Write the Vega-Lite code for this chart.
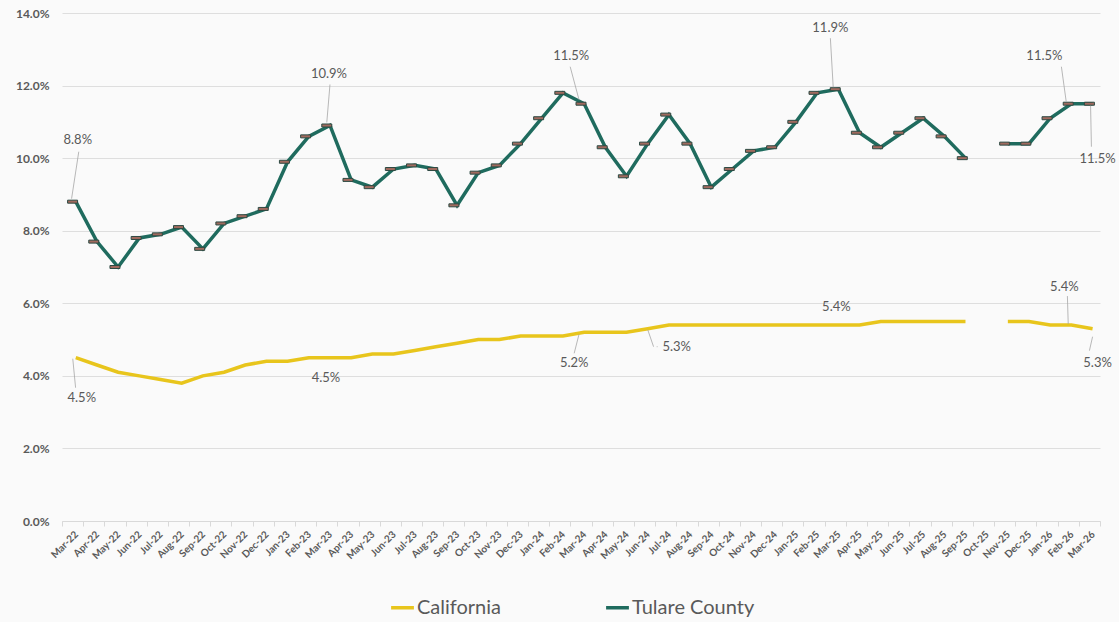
{
  "$schema": "https://vega.github.io/schema/vega-lite/v6.json",
  "width": 1038,
  "height": 508,
  "autosize": {"type": "none"},
  "padding": {"left": 62, "top": 13, "right": 19, "bottom": 101},
  "background": "#fafafa",
  "config": {"view": {"stroke": null}, "font": "Lato"},
  "data": {"values": [
    {"month": "Mar-22", "California": 0.045, "Tulare County": 0.088},
    {"month": "Apr-22", "California": 0.043, "Tulare County": 0.077},
    {"month": "May-22", "California": 0.041, "Tulare County": 0.070},
    {"month": "Jun-22", "California": 0.040, "Tulare County": 0.078},
    {"month": "Jul-22", "California": 0.039, "Tulare County": 0.079},
    {"month": "Aug-22", "California": 0.038, "Tulare County": 0.081},
    {"month": "Sep-22", "California": 0.040, "Tulare County": 0.075},
    {"month": "Oct-22", "California": 0.041, "Tulare County": 0.082},
    {"month": "Nov-22", "California": 0.043, "Tulare County": 0.084},
    {"month": "Dec-22", "California": 0.044, "Tulare County": 0.086},
    {"month": "Jan-23", "California": 0.044, "Tulare County": 0.099},
    {"month": "Feb-23", "California": 0.045, "Tulare County": 0.106},
    {"month": "Mar-23", "California": 0.045, "Tulare County": 0.109},
    {"month": "Apr-23", "California": 0.045, "Tulare County": 0.094},
    {"month": "May-23", "California": 0.046, "Tulare County": 0.092},
    {"month": "Jun-23", "California": 0.046, "Tulare County": 0.097},
    {"month": "Jul-23", "California": 0.047, "Tulare County": 0.098},
    {"month": "Aug-23", "California": 0.048, "Tulare County": 0.097},
    {"month": "Sep-23", "California": 0.049, "Tulare County": 0.087},
    {"month": "Oct-23", "California": 0.050, "Tulare County": 0.096},
    {"month": "Nov-23", "California": 0.050, "Tulare County": 0.098},
    {"month": "Dec-23", "California": 0.051, "Tulare County": 0.104},
    {"month": "Jan-24", "California": 0.051, "Tulare County": 0.111},
    {"month": "Feb-24", "California": 0.051, "Tulare County": 0.118},
    {"month": "Mar-24", "California": 0.052, "Tulare County": 0.115},
    {"month": "Apr-24", "California": 0.052, "Tulare County": 0.103},
    {"month": "May-24", "California": 0.052, "Tulare County": 0.095},
    {"month": "Jun-24", "California": 0.053, "Tulare County": 0.104},
    {"month": "Jul-24", "California": 0.054, "Tulare County": 0.112},
    {"month": "Aug-24", "California": 0.054, "Tulare County": 0.104},
    {"month": "Sep-24", "California": 0.054, "Tulare County": 0.092},
    {"month": "Oct-24", "California": 0.054, "Tulare County": 0.097},
    {"month": "Nov-24", "California": 0.054, "Tulare County": 0.102},
    {"month": "Dec-24", "California": 0.054, "Tulare County": 0.103},
    {"month": "Jan-25", "California": 0.054, "Tulare County": 0.110},
    {"month": "Feb-25", "California": 0.054, "Tulare County": 0.118},
    {"month": "Mar-25", "California": 0.054, "Tulare County": 0.119},
    {"month": "Apr-25", "California": 0.054, "Tulare County": 0.107},
    {"month": "May-25", "California": 0.055, "Tulare County": 0.103},
    {"month": "Jun-25", "California": 0.055, "Tulare County": 0.107},
    {"month": "Jul-25", "California": 0.055, "Tulare County": 0.111},
    {"month": "Aug-25", "California": 0.055, "Tulare County": 0.106},
    {"month": "Sep-25", "California": 0.055, "Tulare County": 0.100},
    {"month": "Oct-25", "California": null, "Tulare County": null},
    {"month": "Nov-25", "California": 0.055, "Tulare County": 0.104},
    {"month": "Dec-25", "California": 0.055, "Tulare County": 0.104},
    {"month": "Jan-26", "California": 0.054, "Tulare County": 0.111},
    {"month": "Feb-26", "California": 0.054, "Tulare County": 0.115},
    {"month": "Mar-26", "California": 0.053, "Tulare County": 0.115}
  ]},
  "transform": [{"fold": ["California", "Tulare County"], "as": ["series", "rate"]}],
  "encoding": {
    "x": {
      "field": "month", "type": "ordinal", "bandPosition": 0.65,
      "scale": {"type": "band", "paddingInner": 0, "paddingOuter": 0,
        "domain": ["Mar-22","Apr-22","May-22","Jun-22","Jul-22","Aug-22","Sep-22","Oct-22","Nov-22","Dec-22","Jan-23","Feb-23","Mar-23","Apr-23","May-23","Jun-23","Jul-23","Aug-23","Sep-23","Oct-23","Nov-23","Dec-23","Jan-24","Feb-24","Mar-24","Apr-24","May-24","Jun-24","Jul-24","Aug-24","Sep-24","Oct-24","Nov-24","Dec-24","Jan-25","Feb-25","Mar-25","Apr-25","May-25","Jun-25","Jul-25","Aug-25","Sep-25","Oct-25","Nov-25","Dec-25","Jan-26","Feb-26","Mar-26"]},
      "axis": {"title": null, "labelAngle": -45, "labelFontSize": 10, "labelFontWeight": "bold", "labelColor": "#595959",
        "tickBand": "extent", "tickColor": "#d9d9d9", "tickSize": 5, "domainColor": "#d9d9d9", "grid": false, "labelPadding": 3}
    },
    "y": {
      "field": "rate", "type": "quantitative",
      "scale": {"domain": [0, 0.14]},
      "axis": {"title": null, "values": [0, 0.02, 0.04, 0.06, 0.08, 0.1, 0.12, 0.14], "format": ".1%",
        "domain": false, "ticks": false, "gridColor": "#dedede", "labelFontSize": 12, "labelFontWeight": "bold",
        "labelColor": "#595959", "labelPadding": 13}
    }
  },
  "layer": [
    {
      "mark": {"type": "line", "strokeWidth": 3.5},
      "encoding": {
        "color": {"field": "series", "type": "nominal",
          "scale": {"domain": ["California", "Tulare County"], "range": ["#e8c51c", "#1f6b5e"]},
          "legend": {"title": null, "orient": "none", "direction": "horizontal", "legendX": 327, "legendY": 581,
            "symbolType": "stroke", "symbolStrokeWidth": 3.5, "symbolSize": 520, "labelFontSize": 20,
            "labelColor": "#595959", "columnPadding": 97, "labelOffset": 1}
        }
      }
    },
    {
      "transform": [{"filter": "datum.series == 'Tulare County' && datum.rate != null"}],
      "mark": {"type": "tick", "orient": "horizontal", "size": 10, "thickness": 3, "fill": "#a06a5e", "stroke": "#2d4a43", "strokeWidth": 1, "opacity": 1}
    },
    {
      "transform": [{"filter": "datum.series == 'Tulare County' && datum.month == 'Mar-22'"}],
      "layer": [
        {"mark": {"type": "rule", "color": "#a6a6a6", "strokeWidth": 0.8, "xOffset": 3, "yOffset": -50, "x2Offset": -1, "y2Offset": -3},
         "encoding": {"x2": {"field": "month"}, "y2": {"field": "rate"}}},
        {"mark": {"type": "text", "dx": 2, "dy": -62, "fontSize": 13, "color": "#595959"},
         "encoding": {"text": {"field": "rate", "format": ".1%"}}}
      ]
    },
    {
      "transform": [{"filter": "datum.series == 'Tulare County' && datum.month == 'Mar-23'"}],
      "layer": [
        {"mark": {"type": "rule", "color": "#a6a6a6", "strokeWidth": 0.8, "xOffset": 0, "yOffset": -41, "x2Offset": 0, "y2Offset": -3},
         "encoding": {"x2": {"field": "month"}, "y2": {"field": "rate"}}},
        {"mark": {"type": "text", "dx": -1, "dy": -51, "fontSize": 13, "color": "#595959"},
         "encoding": {"text": {"field": "rate", "format": ".1%"}}}
      ]
    },
    {
      "transform": [{"filter": "datum.series == 'Tulare County' && datum.month == 'Mar-24'"}],
      "layer": [
        {"mark": {"type": "rule", "color": "#a6a6a6", "strokeWidth": 0.8, "xOffset": -14, "yOffset": -37, "x2Offset": -2, "y2Offset": -4},
         "encoding": {"x2": {"field": "month"}, "y2": {"field": "rate"}}},
        {"mark": {"type": "text", "dx": -13, "dy": -48, "fontSize": 13, "color": "#595959"},
         "encoding": {"text": {"field": "rate", "format": ".1%"}}}
      ]
    },
    {
      "transform": [{"filter": "datum.series == 'Tulare County' && datum.month == 'Mar-25'"}],
      "layer": [
        {"mark": {"type": "rule", "color": "#a6a6a6", "strokeWidth": 0.8, "xOffset": -8, "yOffset": -51, "x2Offset": -2, "y2Offset": -2},
         "encoding": {"x2": {"field": "month"}, "y2": {"field": "rate"}}},
        {"mark": {"type": "text", "dx": -8, "dy": -61, "fontSize": 13, "color": "#595959"},
         "encoding": {"text": {"field": "rate", "format": ".1%"}}}
      ]
    },
    {
      "transform": [{"filter": "datum.series == 'Tulare County' && datum.month == 'Feb-26'"}],
      "layer": [
        {"mark": {"type": "rule", "color": "#a6a6a6", "strokeWidth": 0.8, "xOffset": -10, "yOffset": -37, "x2Offset": -2, "y2Offset": -2},
         "encoding": {"x2": {"field": "month"}, "y2": {"field": "rate"}}},
        {"mark": {"type": "text", "dx": -27, "dy": -48, "fontSize": 13, "color": "#595959"},
         "encoding": {"text": {"field": "rate", "format": ".1%"}}}
      ]
    },
    {
      "transform": [{"filter": "datum.series == 'Tulare County' && datum.month == 'Mar-26'"}],
      "layer": [
        {"mark": {"type": "rule", "color": "#a6a6a6", "strokeWidth": 0.8, "xOffset": -2, "yOffset": 2, "x2Offset": 2, "y2Offset": 43},
         "encoding": {"x2": {"field": "month"}, "y2": {"field": "rate"}}},
        {"mark": {"type": "text", "dx": 5, "dy": 55, "fontSize": 13, "color": "#595959"},
         "encoding": {"text": {"field": "rate", "format": ".1%"}}}
      ]
    },
    {
      "transform": [{"filter": "datum.series == 'California' && datum.month == 'Mar-22'"}],
      "layer": [
        {"mark": {"type": "rule", "color": "#a6a6a6", "strokeWidth": 0.8, "xOffset": -3, "yOffset": 1, "x2Offset": 3, "y2Offset": 30},
         "encoding": {"x2": {"field": "month"}, "y2": {"field": "rate"}}},
        {"mark": {"type": "text", "dx": 6, "dy": 40, "fontSize": 13, "color": "#595959"},
         "encoding": {"text": {"field": "rate", "format": ".1%"}}}
      ]
    },
    {
      "transform": [{"filter": "datum.series == 'California' && datum.month == 'Mar-23'"}],
      "layer": [
        {"mark": {"type": "text", "dx": -4, "dy": 20, "fontSize": 13, "color": "#595959"},
         "encoding": {"text": {"field": "rate", "format": ".1%"}}}
      ]
    },
    {
      "transform": [{"filter": "datum.series == 'California' && datum.month == 'Mar-24'"}],
      "layer": [
        {"mark": {"type": "rule", "color": "#a6a6a6", "strokeWidth": 0.8, "xOffset": -10, "yOffset": 21, "x2Offset": -2, "y2Offset": 2},
         "encoding": {"x2": {"field": "month"}, "y2": {"field": "rate"}}},
        {"mark": {"type": "text", "dx": -10, "dy": 31, "fontSize": 13, "color": "#595959"},
         "encoding": {"text": {"field": "rate", "format": ".1%"}}}
      ]
    },
    {
      "transform": [{"filter": "datum.series == 'California' && datum.month == 'Jun-24'"}],
      "layer": [
        {"mark": {"type": "rule", "color": "#a6a6a6", "strokeWidth": 0.8, "xOffset": 0, "yOffset": 1, "x2Offset": 9, "y2Offset": 18},
         "encoding": {"x2": {"field": "month"}, "y2": {"field": "rate"}}},
        {"mark": {"type": "rule", "color": "#a6a6a6", "strokeWidth": 0.8, "xOffset": 9, "yOffset": 18, "x2Offset": 13, "y2Offset": 18},
         "encoding": {"x2": {"field": "month"}, "y2": {"field": "rate"}}},
        {"mark": {"type": "text", "dx": 29, "dy": 18, "fontSize": 13, "color": "#595959"},
         "encoding": {"text": {"field": "rate", "format": ".1%"}}}
      ]
    },
    {
      "transform": [{"filter": "datum.series == 'California' && datum.month == 'Mar-25'"}],
      "layer": [
        {"mark": {"type": "text", "dx": -2, "dy": -18, "fontSize": 13, "color": "#595959"},
         "encoding": {"text": {"field": "rate", "format": ".1%"}}}
      ]
    },
    {
      "transform": [{"filter": "datum.series == 'California' && datum.month == 'Feb-26'"}],
      "layer": [
        {"mark": {"type": "rule", "color": "#a6a6a6", "strokeWidth": 0.8, "xOffset": -4, "yOffset": -29, "x2Offset": 0, "y2Offset": -1},
         "encoding": {"x2": {"field": "month"}, "y2": {"field": "rate"}}},
        {"mark": {"type": "text", "dx": -7, "dy": -38, "fontSize": 13, "color": "#595959"},
         "encoding": {"text": {"field": "rate", "format": ".1%"}}}
      ]
    },
    {
      "transform": [{"filter": "datum.series == 'California' && datum.month == 'Mar-26'"}],
      "layer": [
        {"mark": {"type": "rule", "color": "#a6a6a6", "strokeWidth": 0.8, "xOffset": 0, "yOffset": 8, "x2Offset": 0, "y2Offset": 22},
         "encoding": {"x2": {"field": "month"}, "y2": {"field": "rate"}}},
        {"mark": {"type": "text", "dx": 5, "dy": 34, "fontSize": 13, "color": "#595959"},
         "encoding": {"text": {"field": "rate", "format": ".1%"}}}
      ]
    }
  ]
}
